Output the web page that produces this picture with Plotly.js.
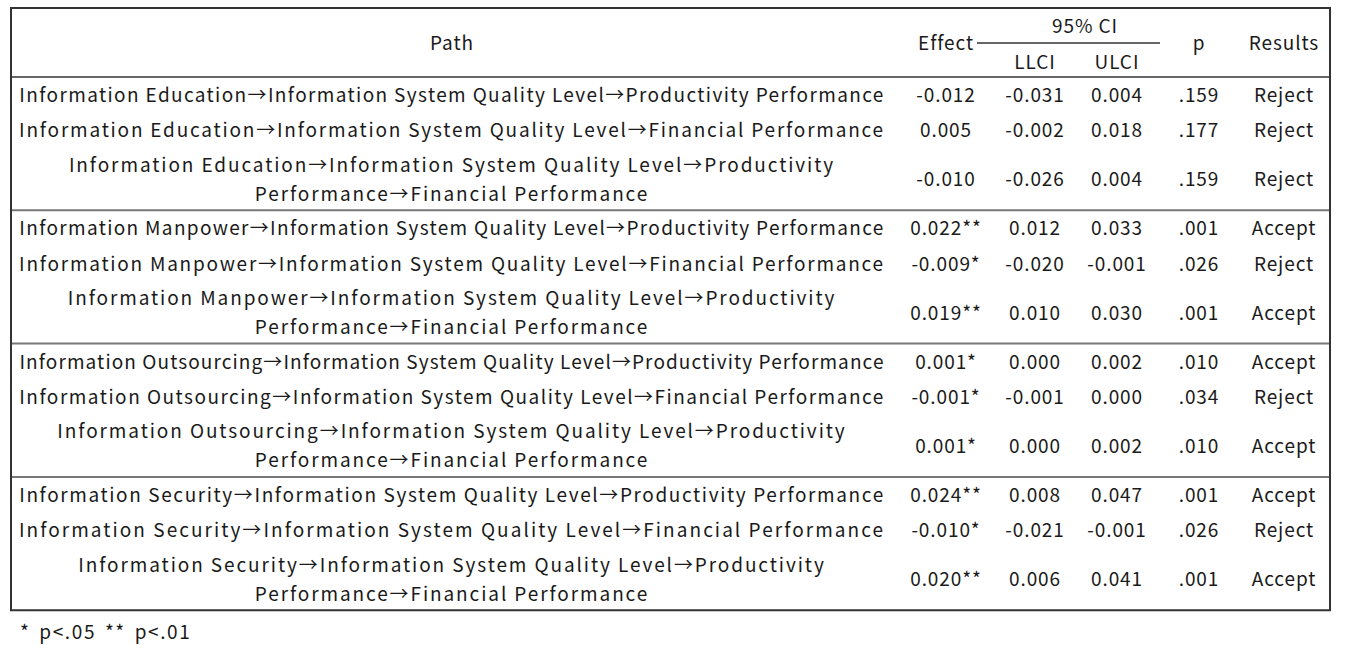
<!DOCTYPE html>
<html>
<head>
<meta charset="utf-8">
<script src="https://cdn.plot.ly/plotly-3.0.1.min.js"></script>
<style>
html,body{margin:0;padding:0;background:#fff;}
#chart{width:1350px;height:648px;}
#chart .scatterlayer .trace:nth-child(2) text{letter-spacing:0.9px;}
#chart .scatterlayer .trace:nth-child(3) text{letter-spacing:1.6px;word-spacing:3px;}
</style>
</head>
<body>
<div id="chart"></div>
<script>
// ---- data ----
const paths = [
  "Information Education→Information System Quality Level→Productivity Performance",
  "Information Education→Information System Quality Level→Financial Performance",
  "Information Education→Information System Quality Level→Productivity<br>Performance→Financial Performance",
  "Information Manpower→Information System Quality Level→Productivity Performance",
  "Information Manpower→Information System Quality Level→Financial Performance",
  "Information Manpower→Information System Quality Level→Productivity<br>Performance→Financial Performance",
  "Information Outsourcing→Information System Quality Level→Productivity Performance",
  "Information Outsourcing→Information System Quality Level→Financial Performance",
  "Information Outsourcing→Information System Quality Level→Productivity<br>Performance→Financial Performance",
  "Information Security→Information System Quality Level→Productivity Performance",
  "Information Security→Information System Quality Level→Financial Performance",
  "Information Security→Information System Quality Level→Productivity<br>Performance→Financial Performance"
];
const effect = ["-0.012","0.005","-0.010","0.022**","-0.009*","0.019**","0.001*","-0.001*","0.001*","0.024**","-0.010*","0.020**"];
const llci = ["-0.031","-0.002","-0.026","0.012","-0.020","0.010","0.000","-0.001","0.000","0.008","-0.021","0.006"];
const ulci = ["0.004","0.018","0.004","0.033","-0.001","0.030","0.002","0.000","0.002","0.047","-0.001","0.041"];
const pvals = [".159",".177",".159",".001",".026",".001",".010",".034",".010",".001",".026",".001"];
const results = ["Reject","Reject","Reject","Accept","Reject","Accept","Accept","Reject","Accept","Accept","Reject","Accept"];
const groupSize = 3;
const headerTop = ["Path","Effect","95% CI","p","Results"];
const headerSub = ["LLCI","ULCI"];
const footnote = "* p<.05 ** p<.01";

// ---- layout geometry ----
const X = {left:11, right:1330, path:452, effect:946, llci:1035, ulci:1117, p:1199, results:1284, ci:1085, ciL:977, ciR:1160};
const Y = {top:8, headBot:77, ciLine:43};
const singleH = 35.1, doubleH = 63.1, lineGap = 14.5, dy = 2.8;
const justifyWidth = 864, wrapSpacing = 1.9;
const FONT = "'Noto Sans CJK KR', 'Noto Sans', sans-serif";
const FS = 19;

const A = {x:[],y:[],t:[],k:[]}, B = {x:[],y:[],t:[]};
function put(o,x,y,t,k){o.x.push(x);o.y.push(y+dy);o.t.push(t);if(o.k)o.k.push(k);}

// header
const hMid = (Y.top+Y.headBot)/2;
put(B,X.path,hMid,headerTop[0]);
put(B,X.effect,hMid,headerTop[1]);
put(B,X.ci,(Y.top+Y.ciLine)/2,headerTop[2]);
put(B,X.p,hMid,headerTop[3]);
put(B,X.results,hMid,headerTop[4]);
put(B,X.llci,(Y.ciLine+Y.headBot)/2+1,headerSub[0]);
put(B,X.ulci,(Y.ciLine+Y.headBot)/2+1,headerSub[1]);

const shapes = [];
let cur = Y.headBot;
for(let i=0;i<paths.length;i++){
  const lines = paths[i].split("<br>");
  const h = lines.length>1 ? doubleH : singleH;
  const c = cur + h/2;
  if(lines.length>1){
    put(A,X.path,c-lineGap,lines[0],'wrap');
    put(A,X.path,c+lineGap,lines[1],'wrap');
  } else put(A,X.path,c,lines[0],'single');
  put(B,X.effect,c,effect[i]);
  put(B,X.llci,c,llci[i]);
  put(B,X.ulci,c,ulci[i]);
  put(B,X.p,c,pvals[i]);
  put(B,X.results,c,results[i]);
  cur += h;
  if((i+1)%groupSize===0 && i<paths.length-1){
    shapes.push({type:'line',xref:'x',yref:'y',x0:X.left,x1:X.right,y0:cur,y1:cur,line:{color:'#777',width:2}});
  }
}
const bottom = cur;
shapes.push({type:'rect',xref:'x',yref:'y',x0:X.left,x1:X.right,y0:Y.top,y1:bottom,line:{color:'#333',width:2}});
shapes.push({type:'line',xref:'x',yref:'y',x0:X.left,x1:X.right,y0:Y.headBot,y1:Y.headBot,line:{color:'#333',width:1.3}});
shapes.push({type:'line',xref:'x',yref:'y',x0:X.ciL,x1:X.ciR,y0:Y.ciLine,y1:Y.ciLine,line:{color:'#333',width:1.3}});

const tf = {family:FONT,size:FS,color:'#1a1a1a'};
const traces = [
  {type:'scatter',mode:'text',x:A.x,y:A.y,text:A.t,textposition:'middle center',
   textfont:tf,hoverinfo:'skip',showlegend:false,cliponaxis:false},
  {type:'scatter',mode:'text',x:B.x,y:B.y,text:B.t,textposition:'middle center',
   textfont:tf,hoverinfo:'skip',showlegend:false,cliponaxis:false},
  {type:'scatter',mode:'text',x:[20],y:[bottom+21+dy],text:[footnote],textposition:'middle right',
   textfont:tf,hoverinfo:'skip',showlegend:false,cliponaxis:false}
];

const layout = {
  width:1350,height:648,margin:{l:0,r:0,t:0,b:0},
  paper_bgcolor:'#fff',plot_bgcolor:'#fff',
  xaxis:{range:[0,1350],visible:false,fixedrange:true},
  yaxis:{range:[648,0],visible:false,fixedrange:true},
  shapes:shapes,showlegend:false
};

function justify(){
  const nodes = document.querySelectorAll('#chart .scatterlayer .trace:nth-child(1) .textpoint text');
  nodes.forEach((el,i)=>{
    const kind = A.k[i];
    const n = (el.textContent||'').length;
    if(kind==='single'){
      el.style.letterSpacing='0px';
      const w = el.getComputedTextLength();
      const sp = (justifyWidth - w)/Math.max(1,n-1);
      el.style.letterSpacing = sp.toFixed(3)+'px';
    } else {
      el.style.letterSpacing = wrapSpacing+'px';
    }
  });
}
Plotly.newPlot('chart',traces,layout,{staticPlot:true,displayModeBar:false}).then(justify);
</script>
</body>
</html>
